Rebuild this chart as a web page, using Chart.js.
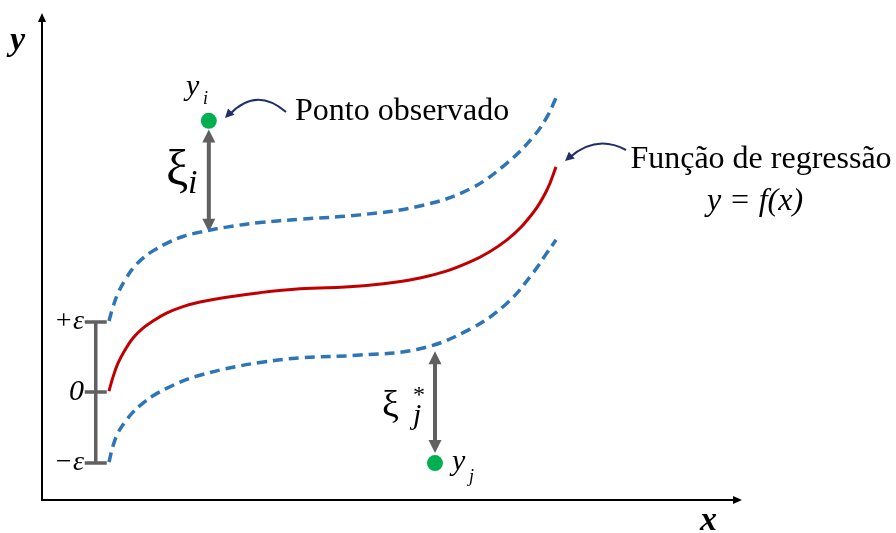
<!DOCTYPE html>
<html>
<head>
<meta charset="utf-8">
<script src="https://cdn.jsdelivr.net/npm/chart.js@4.4.1/dist/chart.umd.min.js"></script>
<style>
  html, body { margin:0; padding:0; background:#fff; }
</style>
</head>
<body>
<canvas id="chartSvr" width="896" height="533"></canvas>
<script>
// abscissas of the sampled curve points
const xs       = [9.6, 10.17, 10.89, 11.89, 13.04, 14.47, 15.9, 17.91, 20.2, 22.64, 26.22, 31.23, 36.96, 45.56, 54.15, 61.32, 66.62, 70.34, 72.35, 73.64];
// regression function f(x)
const fx       = [22.7, 25.6, 28.5, 31.25, 33.75, 35.8, 37.3, 39.0, 40.3, 41.25, 42.2, 43.2, 44.0, 44.6, 46.25, 49.6, 54.2, 59.8, 64.6, 69.4];
// f(x) + eps
const tubeUp   = [37.3, 40.2, 43.1, 45.8, 48.3, 50.4, 51.9, 53.5, 54.9, 55.8, 56.8, 57.8, 58.5, 59.4, 61.25, 64.8, 70.2, 75.6, 79.8, 83.75];
// f(x) - eps
const tubeDown = [7.9, 11.25, 14.0, 16.25, 18.3, 20.2, 21.7, 23.3, 24.8, 26.0, 27.3, 28.65, 29.6, 30.2, 31.5, 35.6, 41.0, 47.3, 51.5, 54.2];
// observed points y_i and y_j
const obsX = [23.9, 56.3];
const obsY = [79.0, 7.7];
// slack arrows (x, from, to)
const slackX    = [23.9, 56.3];
const slackFrom = [77.2, 31.0];
const slackTo   = [55.9, 9.8];
// eps bracket levels
const epsX = 7.7;
const epsLevels = [37.1, 22.5, 7.7];
const epsLabels = ['+ε', '0', '−ε'];

const pts = arr => xs.map((x, i) => ({ x, y: arr[i] }));
const GRAY = '#606060';
const SERIF = '"Liberation Serif", "Times New Roman", serif';

function head(ctx, x, y, ang, len, hw) {
  ctx.beginPath();
  ctx.moveTo(x, y);
  ctx.lineTo(x - len*Math.cos(ang) + hw*Math.sin(ang), y - len*Math.sin(ang) - hw*Math.cos(ang));
  ctx.lineTo(x - len*Math.cos(ang) - hw*Math.sin(ang), y - len*Math.sin(ang) + hw*Math.cos(ang));
  ctx.closePath();
  ctx.fill();
}

const sketch = {
  id: 'sketch',
  beforeDatasetsDraw(chart) {
    const { ctx, chartArea: a, scales: { x, y } } = chart;
    ctx.save();
    // axes with arrow heads
    ctx.strokeStyle = '#000'; ctx.fillStyle = '#000'; ctx.lineWidth = 2;
    ctx.beginPath();
    ctx.moveTo(a.left, a.top - 4); ctx.lineTo(a.left, a.bottom); ctx.lineTo(a.right - 4, a.bottom);
    ctx.stroke();
    head(ctx, a.left, a.top - 7, -Math.PI/2, 9, 4);
    head(ctx, a.right + 2, a.bottom, 0, 9, 4);

    // eps bracket
    ctx.strokeStyle = GRAY; ctx.lineWidth = 3.5;
    const bx = x.getPixelForValue(epsX);
    ctx.beginPath();
    ctx.moveTo(bx, y.getPixelForValue(epsLevels[0]));
    ctx.lineTo(bx, y.getPixelForValue(epsLevels[2]));
    epsLevels.forEach(v => {
      const py = y.getPixelForValue(v);
      ctx.moveTo(bx - 11, py); ctx.lineTo(bx + 11, py);
    });
    ctx.stroke();

    // slack arrows
    ctx.fillStyle = GRAY; ctx.lineWidth = 4;
    slackX.forEach((sx, i) => {
      const px = x.getPixelForValue(sx);
      const p1 = y.getPixelForValue(slackFrom[i]), p2 = y.getPixelForValue(slackTo[i]);
      ctx.beginPath(); ctx.moveTo(px, p1 + 10); ctx.lineTo(px, p2 - 10); ctx.stroke();
      head(ctx, px, p1, -Math.PI/2, 13, 6.5);
      head(ctx, px, p2, Math.PI/2, 13, 6.5);
    });
    ctx.restore();
  },
  afterDatasetsDraw(chart) {
    const { ctx } = chart;
    ctx.save();
    // curved pointers
    ctx.strokeStyle = '#1f2f6b'; ctx.fillStyle = '#1f2f6b'; ctx.lineWidth = 2;
    [[286,112, 256,86, 225,118], [626,150, 596,134, 565,161]].forEach(([x0,y0,cx,cy,x1,y1]) => {
      ctx.beginPath(); ctx.moveTo(x0, y0); ctx.quadraticCurveTo(cx, cy, x1 + 4, y1 - 3); ctx.stroke();
      head(ctx, x1, y1, Math.atan2(y1 - cy, x1 - cx), 9, 4.5);
    });

    ctx.fillStyle = '#000';
    ctx.textBaseline = 'alphabetic';
    // axis titles
    ctx.font = 'italic bold 34px ' + SERIF;
    ctx.fillText('y', 10, 50);
    ctx.fillText('x', 700, 530);

    // point labels
    ctx.font = 'italic 30px ' + SERIF;
    ctx.fillText('y', 186, 95);
    ctx.fillText('y', 452, 470);
    ctx.font = 'italic 18px ' + SERIF;
    ctx.fillText('i', 203, 104);
    ctx.fillText('j', 469, 482);

    // slack labels
    ctx.font = '50px ' + SERIF;
    ctx.fillText('ξ', 166, 185);
    ctx.font = 'italic 34px ' + SERIF;
    ctx.fillText('i', 188, 193);
    ctx.font = '38px ' + SERIF;
    ctx.fillText('ξ', 382, 417);
    ctx.font = '24px ' + SERIF;
    ctx.fillText('*', 413, 402);
    ctx.font = 'italic 30px ' + SERIF;
    ctx.fillText('j', 413, 424);

    // eps labels
    ctx.textAlign = 'right'; ctx.textBaseline = 'middle';
    epsLabels.forEach((t, i) => {
      ctx.font = (i === 1 ? 'italic 30px ' : 'italic 28px ') + SERIF;
      ctx.fillText(t, 84, chart.scales.y.getPixelForValue(epsLevels[i]));
    });

    // annotations
    ctx.textBaseline = 'alphabetic';
    ctx.textAlign = 'left';
    ctx.font = '32px ' + SERIF;
    ctx.fillText('Ponto observado', 295, 120);
    ctx.textAlign = 'center';
    ctx.fillText('Função de regressão', 761, 168);
    ctx.font = 'italic 32px ' + SERIF;
    ctx.fillText('y = f(x)', 755, 210);
    ctx.restore();
  }
};

new Chart(document.getElementById('chartSvr'), {
  type: 'line',
  data: {
    datasets: [
      { label:'f(x)+ε', data: pts(tubeUp), borderColor:'#2e75b6', borderWidth:3.5, borderDash:[10,6],
        pointRadius:0, tension:0.4, fill:false },
      { label:'f(x)', data: pts(fx), borderColor:'#c00000', borderWidth:3,
        pointRadius:0, tension:0.4, fill:false },
      { label:'f(x)−ε', data: pts(tubeDown), borderColor:'#2e75b6', borderWidth:3.5, borderDash:[10,6],
        pointRadius:0, tension:0.4, fill:false },
      { label:'observado', data: obsX.map((x, i) => ({ x, y: obsY[i] })), showLine:false,
        pointRadius:8, pointBackgroundColor:'#00b050', pointBorderWidth:0 }
    ]
  },
  options: {
    responsive:false, animation:false, devicePixelRatio:1, clip:false,
    layout:{ padding:{ left:42, right:156, top:20, bottom:33 } },
    plugins:{ legend:{display:false}, tooltip:{enabled:false} },
    scales:{
      x:{ type:'linear', min:0, max:100, display:false },
      y:{ type:'linear', min:0, max:100, display:false }
    }
  },
  plugins:[sketch]
});
</script>
</body>
</html>
